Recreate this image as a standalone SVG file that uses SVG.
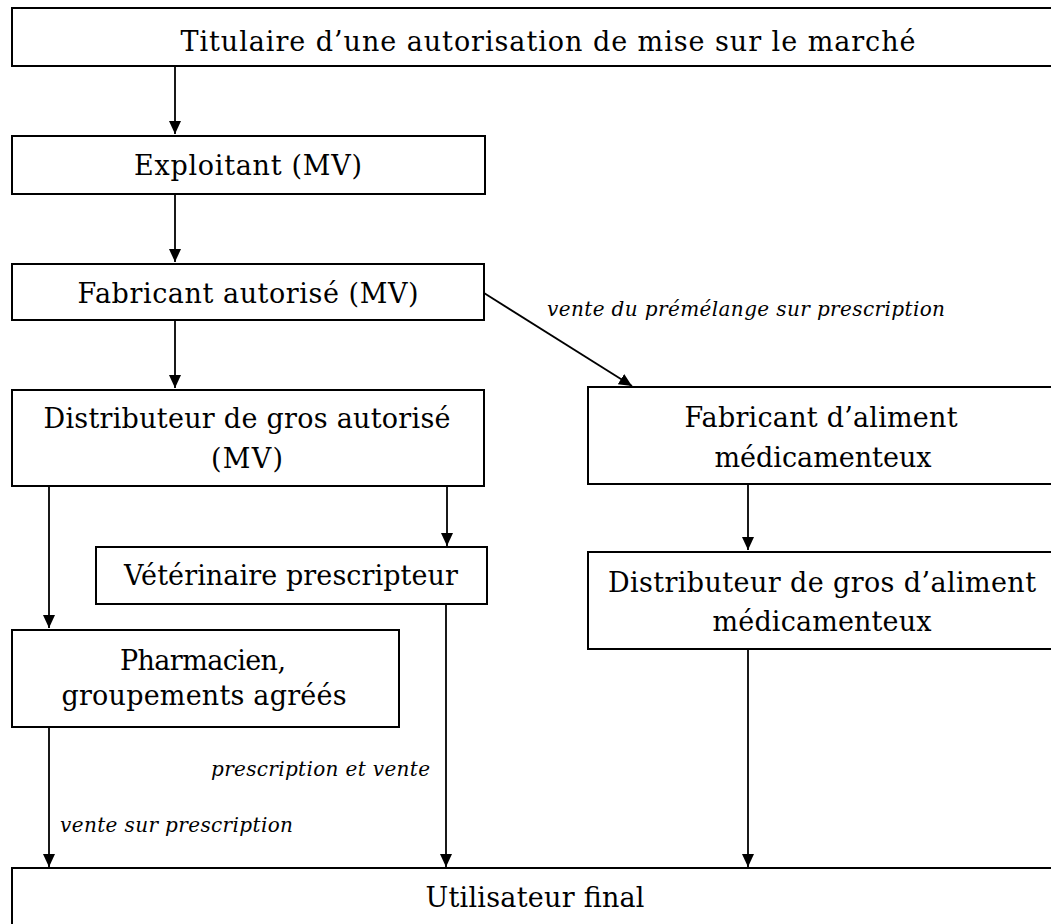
<svg xmlns="http://www.w3.org/2000/svg" width="1051" height="924" viewBox="0 0 1051 924">
<style>
.box{fill:#fff;stroke:#000;stroke-width:2}
.t{font-family:"DejaVu Serif","Liberation Serif",serif;font-size:27px;fill:#000;text-anchor:middle}
.l{font-family:"DejaVu Serif","Liberation Serif",serif;font-size:20px;font-style:italic;fill:#000}
.c{stroke:#000;stroke-width:1.8;fill:none}
</style>
<defs>
<marker id="ah" markerUnits="userSpaceOnUse" markerWidth="14" markerHeight="16" refX="13" refY="6" orient="auto">
<path d="M0,0 L13,6 L0,12 Z" fill="#000"/>
</marker>
</defs>
<g id="connectors">
<line class="c" x1="175" y1="67" x2="175" y2="134" marker-end="url(#ah)"/>
<line class="c" x1="175" y1="194" x2="175" y2="262" marker-end="url(#ah)"/>
<line class="c" x1="175" y1="320" x2="175" y2="388" marker-end="url(#ah)"/>
<line class="c" x1="484" y1="293" x2="632" y2="386" marker-end="url(#ah)"/>
<line class="c" x1="748" y1="485" x2="748" y2="550" marker-end="url(#ah)"/>
<line class="c" x1="447" y1="486" x2="447" y2="546" marker-end="url(#ah)"/>
<line class="c" x1="49" y1="486" x2="49" y2="628" marker-end="url(#ah)"/>
<line class="c" x1="49" y1="727" x2="49" y2="867" marker-end="url(#ah)"/>
<line class="c" x1="446" y1="604" x2="446" y2="867" marker-end="url(#ah)"/>
<line class="c" x1="748" y1="649" x2="748" y2="867" marker-end="url(#ah)"/>
<text class="l" x="547" y="316" textLength="398">vente du prémélange sur prescription</text>
<text class="l" x="211" y="776" textLength="219">prescription  et vente</text>
<text class="l" x="60" y="832" textLength="233">vente sur prescription</text>
</g>
<g id="titulaire">
<rect class="box" x="12" y="8" width="1050" height="58"/>
<text class="t" x="548" y="51" textLength="735">Titulaire d’une autorisation de mise sur le marché</text>
</g>
<g id="exploitant">
<rect class="box" x="12" y="136" width="473" height="58"/>
<text class="t" x="248" y="175" textLength="228">Exploitant (MV)</text>
</g>
<g id="fabricant">
<rect class="box" x="12" y="264" width="472" height="56"/>
<text class="t" x="248" y="303" textLength="341">Fabricant autorisé (MV)</text>
</g>
<g id="distributeur">
<rect class="box" x="12" y="390" width="472" height="96"/>
<text class="t" x="247" y="428" textLength="407">Distributeur de gros autorisé</text>
<text class="t" x="247" y="468" textLength="72">(MV)</text>
</g>
<g id="fabricant-aliment">
<rect class="box" x="588" y="387" width="475" height="97"/>
<text class="t" x="821" y="427" textLength="273">Fabricant d’aliment</text>
<text class="t" x="823" y="467" textLength="217">médicamenteux</text>
</g>
<g id="veterinaire">
<rect class="box" x="96" y="547" width="391" height="57"/>
<text class="t" x="291" y="585" textLength="334">Vétérinaire prescripteur</text>
</g>
<g id="distributeur-aliment">
<rect class="box" x="588" y="552" width="475" height="97"/>
<text class="t" x="822" y="592" textLength="428">Distributeur de gros d’aliment</text>
<text class="t" x="822" y="631" textLength="219">médicamenteux</text>
</g>
<g id="pharmacien">
<rect class="box" x="12" y="630" width="387" height="97"/>
<text class="t" x="203" y="670" textLength="166">Pharmacien,</text>
<text class="t" x="204" y="705" textLength="285">groupements agréés</text>
</g>
<g id="utilisateur">
<rect class="box" x="12" y="868" width="1050" height="80"/>
<text class="t" x="535" y="907" textLength="219">Utilisateur final</text>
</g>
</svg>
